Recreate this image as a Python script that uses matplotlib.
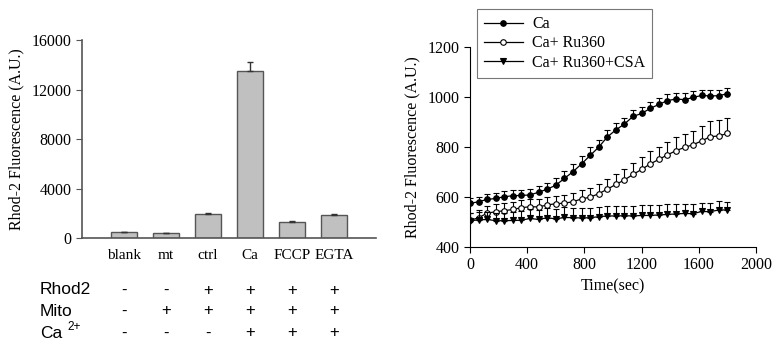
import matplotlib
matplotlib.use("Agg")
import matplotlib.pyplot as plt
import numpy as np

plt.rcParams["font.family"] = "Liberation Serif"

# left panel: end-point fluorescence
groups = ["blank", "mt", "ctrl", "Ca", "FCCP", "EGTA"]
group_vals = [500, 420, 1980, 13500, 1350, 1900]
group_err = [30, 30, 90, 700, 40, 90]

row_names = ["Rhod2", "Mito", "Ca"]
rhod2 = ["-", "-", "+", "+", "+", "+"]
mito = ["-", "+", "+", "+", "+", "+"]
calcium = ["-", "-", "-", "+", "+", "+"]

# right panel: time course (every 60 s)
time_s = list(range(0, 1801, 60))
ca = [573, 580, 589, 593, 600, 604, 605, 607, 618, 630, 646, 673, 700, 731, 765,
      798, 839, 867, 891, 921, 933, 953, 969, 984, 991, 988, 997, 1005, 1003, 1004, 1012]
ca_err = [20, 20, 20, 20, 22, 22, 22, 22, 25, 25, 28, 30, 30, 32, 32,
          30, 26, 26, 25, 25, 25, 25, 25, 25, 25, 28, 25, 22, 22, 22, 23]
ru360 = [505, 516, 534, 540, 544, 549, 556, 560, 559, 567, 572, 574, 580, 591, 598,
         612, 630, 649, 667, 689, 709, 731, 749, 767, 784, 797, 808, 823, 840, 843, 853]
ru360_err = [30, 30, 30, 30, 30, 30, 30, 30, 30, 30, 30, 32, 35, 35, 38,
             40, 40, 40, 42, 45, 48, 50, 50, 52, 55, 55, 55, 60, 62, 62, 63]
csa = [504, 507, 509, 504, 504, 505, 506, 513, 509, 516, 511, 517, 516, 515, 516,
       520, 523, 523, 524, 523, 525, 525, 527, 529, 531, 533, 532, 541, 540, 547, 547]
csa_err = [30, 30, 30, 32, 32, 32, 35, 38, 38, 38, 38, 40, 40, 40, 40,
           40, 40, 40, 40, 40, 40, 40, 40, 40, 40, 38, 38, 35, 35, 35, 32]

fig = plt.figure(figsize=(7.73, 3.52), dpi=100)

# ---- left bar chart ----
ax1 = fig.add_axes([82 / 773, 1 - 238.3 / 352, 294 / 773, 198.3 / 352])
x = np.arange(len(groups))
ax1.bar(x, group_vals, width=0.6, color="#c0c0c0", edgecolor="#555555", linewidth=1.0,
        yerr=[np.zeros(len(group_err)), group_err], capsize=2.5,
        error_kw=dict(ecolor="#333333", elinewidth=1, capthick=1))
ax1.set_xlim(-1, 6)
ax1.set_ylim(0, 16000)
ax1.set_yticks([0, 4000, 8000, 12000, 16000])
ax1.set_xticks(x)
ax1.set_xticklabels(groups, fontsize=11)
ax1.tick_params(axis="x", length=0, pad=8)
ax1.tick_params(axis="y", direction="out", length=4, labelsize=11.5, color="#555555")
for s in ["top", "right"]:
    ax1.spines[s].set_visible(False)
for s in ["left", "bottom"]:
    ax1.spines[s].set_color("#555555")
    ax1.spines[s].set_linewidth(1.2)
ax1.set_ylabel("Rhod-2 Fluorescence (A.U.)", fontsize=11.5, labelpad=5)

# condition table under bars
row_y = [290, 311, 333]
sans = "Liberation Sans"
for ry, name, marks in zip(row_y, row_names, [rhod2, mito, calcium]):
    yf = 1 - ry / 352
    fig.text(40 / 773, yf, name, fontsize=12.5, family=sans, va="center", ha="left")
    for xi, m in zip(x, marks):
        xd = ax1.transData.transform((xi, 0))[0]
        xf = fig.transFigure.inverted().transform((xd, 0))[0]
        fig.text(xf, yf, m, fontsize=12, family=sans, va="center", ha="center")
fig.text(67 / 773, 1 - 327 / 352, "2+", fontsize=8.5, family=sans, va="center", ha="left")

# ---- right time course ----
ax2 = fig.add_axes([470 / 773, 1 - 246.7 / 352, 286 / 773, 200 / 352])
series = [
    (ca, ca_err, "o", "black", "Ca"),
    (ru360, ru360_err, "o", "white", "Ca+ Ru360"),
    (csa, csa_err, "v", "black", "Ca+ Ru360+CSA"),
]
handles = []
for vals, err, mk, fc, lab in series:
    ax2.errorbar(time_s, vals, yerr=[np.zeros(len(err)), err], fmt="none",
                 ecolor="black", elinewidth=0.8, capsize=2.3, capthick=0.8)
    h, = ax2.plot(time_s, vals, color="black", linewidth=0.9, marker=mk, markersize=4,
                  markerfacecolor=fc, markeredgecolor="black", markeredgewidth=0.8, label=lab)
    handles.append(h)

ax2.set_xlim(0, 2000)
ax2.set_ylim(400, 1200)
ax2.set_xticks([0, 400, 800, 1200, 1600, 2000])
ax2.set_yticks([400, 600, 800, 1000, 1200])
ax2.tick_params(direction="out", length=4, labelsize=11.5)
for s in ["top", "right"]:
    ax2.spines[s].set_visible(False)
ax2.set_xlabel("Time(sec)", fontsize=11.5, labelpad=4)
ax2.set_ylabel("Rhod-2 Fluorescence (A.U.)", fontsize=11.5, labelpad=5)

leg = fig.legend(handles=handles, loc="upper left", bbox_to_anchor=(477 / 773, 1 - 9 / 352),
                 fontsize=11.5, frameon=True, fancybox=False, handlelength=2.4,
                 borderpad=0.45, labelspacing=0.2, handletextpad=0.6, borderaxespad=0)
leg.get_frame().set_edgecolor("#555555")
leg.get_frame().set_linewidth(0.8)

fig.savefig("out.png", dpi=100)
